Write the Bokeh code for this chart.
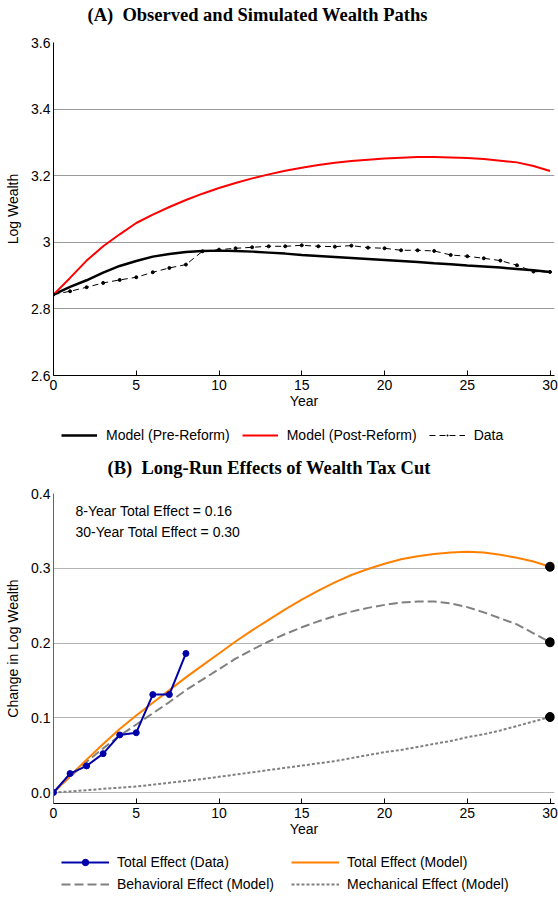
from bokeh.plotting import figure
from bokeh.models import Legend, LegendItem, FixedTicker, Label, Range1d
from bokeh.layouts import column
from bokeh.embed import file_html
from bokeh.resources import INLINE

SANS = "Liberation Sans"
SERIF = "Liberation Serif"

# ---------------- Panel A data ----------------
years = list(range(31))
pre_reform = [2.843, 2.866, 2.886, 2.909, 2.929, 2.944, 2.957, 2.965, 2.971, 2.974,
              2.975, 2.974, 2.972, 2.969, 2.966, 2.962, 2.959, 2.956, 2.953, 2.950,
              2.947, 2.944, 2.941, 2.937, 2.934, 2.930, 2.927, 2.924, 2.920, 2.916, 2.911]
post_reform = [2.843, 2.893, 2.945, 2.988, 3.024, 3.058, 3.083, 3.106, 3.127, 3.146,
               3.163, 3.178, 3.192, 3.204, 3.215, 3.224, 3.232, 3.239, 3.244, 3.248,
               3.252, 3.254, 3.256, 3.256, 3.255, 3.253, 3.250, 3.245, 3.240, 3.229, 3.214]
data_wealth = [2.843, 2.853, 2.865, 2.878, 2.887, 2.895, 2.910, 2.923, 2.933, 2.973,
               2.978, 2.982, 2.985, 2.988, 2.988, 2.991, 2.988, 2.987, 2.990, 2.984,
               2.982, 2.976, 2.976, 2.974, 2.962, 2.958, 2.952, 2.945, 2.931, 2.912, 2.911]
a_yticks = [2.6, 2.8, 3.0, 3.2, 3.4, 3.6]
x_ticks = [0, 5, 10, 15, 20, 25, 30]
title_a = "(A)\u00a0 Observed and Simulated Wealth Paths"
legend_a = ["Model (Pre-Reform)", "Model (Post-Reform)", "Data"]

# ---------------- Panel B data ----------------
total_model = [0.0, 0.022, 0.044, 0.065, 0.085, 0.103, 0.120, 0.137, 0.154, 0.170,
               0.186, 0.202, 0.217, 0.231, 0.245, 0.258, 0.270, 0.281, 0.291, 0.299,
               0.306, 0.312, 0.316, 0.319, 0.321, 0.322, 0.321, 0.318, 0.314, 0.309, 0.302]
behavioral = [0.0, 0.021, 0.041, 0.059, 0.076, 0.091, 0.106, 0.121, 0.137, 0.151,
              0.165, 0.179, 0.191, 0.202, 0.212, 0.221, 0.229, 0.236, 0.242, 0.247,
              0.251, 0.254, 0.2555, 0.2555, 0.253, 0.248, 0.241, 0.233, 0.225, 0.213, 0.201]
mechanical = [0.0, 0.0015, 0.003, 0.005, 0.0065, 0.008, 0.0105, 0.013, 0.0155, 0.018,
              0.021, 0.024, 0.027, 0.030, 0.033, 0.036, 0.039, 0.042, 0.046, 0.050,
              0.054, 0.057, 0.061, 0.065, 0.069, 0.074, 0.078, 0.083, 0.089, 0.095, 0.101]
data_years = list(range(9))
total_data = [0.0, 0.0253, 0.0356, 0.052, 0.077, 0.080, 0.131, 0.131, 0.186]
end_year = [30, 30, 30]
end_values = [total_model[-1], behavioral[-1], mechanical[-1]]
b_yticks = [0.0, 0.1, 0.2, 0.3, 0.4]
notes = ["8-Year Total Effect = 0.16", "30-Year Total Effect = 0.30"]
note_y = [0.377, 0.348]
title_b = "(B)\u00a0 Long-Run Effects of Wealth Tax Cut"
legend_b = ["Total Effect (Data)", "Total Effect (Model)",
            "Behavioral Effect (Model)", "Mechanical Effect (Model)"]

W = 558
FL, FR = 53, 554          # frame left / right in page pixels (all rows share them)
X_END = 30.27             # a little room right of year 30 so the end dots are whole

# styles
PRE = dict(line_color="black", line_width=2.5)
POST = dict(line_color="#FF0000", line_width=2)
DATA_L = dict(line_color="black", line_width=1, line_dash="6 4")
DATA_P = dict(size=3, color="black")
MECH = dict(line_color="#808080", line_width=2, line_dash="3 2")
BEH = dict(line_color="#808080", line_width=2, line_dash="9 4")
TOT = dict(line_color="#FF8000", line_width=2)
BLUE_L = dict(line_color="#0000AA", line_width=2)
BLUE_P = dict(size=6, color="#0000AA")


def style_axes(p, grid_color, left_axis_color):
    p.outline_line_color = None
    p.xgrid.visible = False
    p.ygrid.grid_line_color = grid_color
    p.ygrid.grid_line_width = 1
    for ax in (p.xaxis[0], p.yaxis[0]):
        ax.major_label_text_font = SANS
        ax.major_label_text_font_size = "14px"
        ax.major_label_text_color = "black"
        ax.axis_label_text_font = SANS
        ax.axis_label_text_font_size = "14px"
        ax.axis_label_text_font_style = "normal"
        ax.axis_label_text_color = "black"
        ax.minor_tick_line_color = None
    xa = p.xaxis[0]
    xa.ticker = FixedTicker(ticks=x_ticks)
    xa.axis_line_color = "black"
    xa.major_tick_line_color = "black"
    xa.major_tick_in = 5
    xa.major_tick_out = 0
    xa.major_label_standoff = 4
    xa.axis_label_standoff = 0
    xa.axis_label = "Year"
    ya = p.yaxis[0]
    ya.axis_line_color = left_axis_color
    ya.major_tick_line_color = None
    ya.major_tick_in = 0
    ya.major_tick_out = 0
    ya.major_label_standoff = 3
    ya.axis_label_standoff = 7


def strip(h):
    """A frame-only strip (page-pixel x, y downward) for titles and legends."""
    f = figure(width=W, height=h, x_range=Range1d(FL, FR), y_range=Range1d(h, 0),
               output_backend="svg", toolbar_location=None,
               x_axis_location=None, y_axis_location=None, min_border=0,
               min_border_left=FL, min_border_right=W - FR)
    f.grid.visible = False
    f.outline_line_color = None
    return f


def title_label(text, x, y):
    return Label(x=x, y=y, text=text, text_font=SERIF, text_font_style="bold",
                 text_font_size="18.5px", text_baseline="middle", text_color="black")


def make_legend(items, loc, ncols, glyph_w, gh, spacing, standoff, label_w):
    kw = dict(items=items, orientation="horizontal", location=loc, margin=0, padding=0,
              spacing=spacing, glyph_width=glyph_w, glyph_height=gh, label_height=gh,
              label_width=label_w, label_standoff=standoff, label_text_font=SANS,
              label_text_font_size="14px", label_text_color="black",
              border_line_color=None, background_fill_alpha=0, inactive_fill_alpha=0)
    if ncols:
        kw["ncols"] = ncols
    return Legend(**kw)


# ---------------- header (title A) ----------------
hdr = strip(30)
hdr.add_layout(title_label(title_a, 87, 14))

# ---------------- Panel A ----------------
pA = figure(width=W, height=390, x_range=Range1d(0, X_END), y_range=Range1d(2.6, 3.6),
            output_backend="svg", toolbar_location=None,
            min_border_left=FL, min_border_right=W - FR, min_border_top=12, min_border_bottom=45)
style_axes(pA, "#999999", "black")
pA.yaxis[0].ticker = FixedTicker(ticks=a_yticks)
pA.yaxis[0].major_label_overrides = {2.6: "2.6", 2.8: "2.8", 3: "3", 3.2: "3.2", 3.4: "3.4", 3.6: "3.6"}
pA.yaxis[0].axis_label = "Log Wealth"

pA.line(years, pre_reform, **PRE)
pA.line(years, post_reform, **POST)
pA.line(years, data_wealth, **DATA_L)
pA.scatter(years, data_wealth, **DATA_P)

# ---------------- strip: legend A + title B ----------------
# legend proxies reuse the series but stay hidden; only their legend swatches show
mid = strip(60)
g_pre = mid.line(years, pre_reform, visible=False, **PRE)
g_post = mid.line(years, post_reform, visible=False, **POST)
g_dl = mid.line(years, data_wealth, visible=False, **DATA_L)
g_dp = mid.scatter(years, data_wealth, visible=False, marker="dot", size=3, color="black")
legA = make_legend([LegendItem(label=legend_a[0], renderers=[g_pre]),
                    LegendItem(label=legend_a[1], renderers=[g_post]),
                    LegendItem(label=legend_a[2], renderers=[g_dl, g_dp])],
                   (8, 35), None, 36, 20, 12, 9, 20)
mid.add_layout(legA)
mid.add_layout(title_label(title_b, 107, 47))

# ---------------- Panel B ----------------
pB = figure(width=W, height=365, x_range=Range1d(0, X_END), y_range=Range1d(-0.0147, 0.4),
            output_backend="svg", toolbar_location=None,
            min_border_left=FL, min_border_right=W - FR, min_border_top=13, min_border_bottom=42)
style_axes(pB, "#B4B4B4", "#666666")
pB.yaxis[0].ticker = FixedTicker(ticks=b_yticks)
pB.yaxis[0].major_label_overrides = {0: "0.0", 0.1: "0.1", 0.2: "0.2", 0.3: "0.3", 0.4: "0.4"}
pB.yaxis[0].axis_label = "Change in Log Wealth"

pB.line(years, mechanical, **MECH)
pB.line(years, behavioral, **BEH)
pB.line(years, total_model, **TOT)
pB.line(data_years, total_data, **BLUE_L)
pB.scatter(data_years, total_data, **BLUE_P)
pB.scatter(end_year, end_values, size=9, color="black")

for t, yv in zip(notes, note_y):
    pB.add_layout(Label(x=1.33, y=yv, text=t, text_font=SANS, text_font_size="14px",
                        text_baseline="middle", text_color="black"))

# ---------------- strip: legend B ----------------
bot = strip(52)
h_bl = bot.line(data_years, total_data, visible=False, **BLUE_L)
h_bp = bot.scatter(data_years, total_data, visible=False, **BLUE_P)
h_tot = bot.line(years, total_model, visible=False, **TOT)
h_beh = bot.line(years, behavioral, visible=False, **BEH)
h_mech = bot.line(years, mechanical, visible=False, **MECH)
legB = make_legend([LegendItem(label=legend_b[0], renderers=[h_bl, h_bp]),
                    LegendItem(label=legend_b[1], renderers=[h_tot]),
                    LegendItem(label=legend_b[2], renderers=[h_beh]),
                    LegendItem(label=legend_b[3], renderers=[h_mech])],
                   (8, 5), 2, 48, 16, 6, 8, 168)
bot.add_layout(legB)

layout = column(hdr, pA, mid, pB, bot, spacing=0)
open("out.html", "w").write(file_html(layout, INLINE))
